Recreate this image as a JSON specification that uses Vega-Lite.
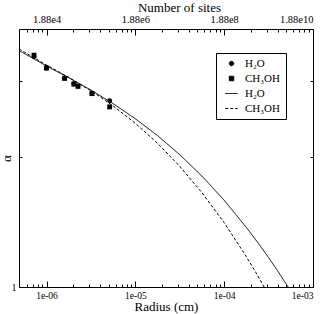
{
  "$schema": "https://vega.github.io/schema/vega-lite/v6.json",
  "autosize": "none",
  "padding": {"left": 19, "top": 29, "right": 14, "bottom": 27},
  "width": 294,
  "height": 258,
  "background": "white",
  "config": {
    "view": {"stroke": "black", "strokeWidth": 1},
    "axis": {
      "domain": false,
      "grid": false,
      "labelFont": "Liberation Serif",
      "titleFont": "Liberation Serif",
      "titleFontWeight": "normal",
      "labelColor": "black",
      "titleColor": "black",
      "tickColor": "black",
      "tickWidth": 1,
      "labelFontSize": 10,
      "titleFontSize": 13
    },
    "legend": {
      "labelFont": "Liberation Serif",
      "labelFontSize": 11,
      "labelColor": "black",
      "strokeColor": "black",
      "fillColor": "white",
      "padding": 5,
      "rowPadding": 3,
      "symbolOffset": 5,
      "labelOffset": 8,
      "symbolSize": 20,
      "symbolStrokeColor": "black",
      "symbolFillColor": "black",
      "symbolStrokeWidth": 1
    }
  },
  "datasets": {
    "curves": [
      {"r": 4.9e-7, "alpha": 4.112, "key": "l1"},
      {"r": 1e-6, "alpha": 3.908, "key": "l1"},
      {"r": 1.778e-6, "alpha": 3.754, "key": "l1"},
      {"r": 3.162e-6, "alpha": 3.591, "key": "l1"},
      {"r": 5.623e-6, "alpha": 3.413, "key": "l1"},
      {"r": 1e-5, "alpha": 3.214, "key": "l1"},
      {"r": 1.778e-5, "alpha": 2.992, "key": "l1"},
      {"r": 3.162e-5, "alpha": 2.741, "key": "l1"},
      {"r": 5.623e-5, "alpha": 2.459, "key": "l1"},
      {"r": 1e-4, "alpha": 2.141, "key": "l1"},
      {"r": 1.778e-4, "alpha": 1.784, "key": "l1"},
      {"r": 2.512e-4, "alpha": 1.551, "key": "l1"},
      {"r": 3.162e-4, "alpha": 1.387, "key": "l1"},
      {"r": 3.98e-4, "alpha": 1.216, "key": "l1"},
      {"r": 5.25e-4, "alpha": 1.0, "key": "l1"},
      {"r": 4.9e-7, "alpha": 4.133, "key": "l2"},
      {"r": 1e-6, "alpha": 3.921, "key": "l2"},
      {"r": 1.778e-6, "alpha": 3.759, "key": "l2"},
      {"r": 3.162e-6, "alpha": 3.583, "key": "l2"},
      {"r": 5.623e-6, "alpha": 3.383, "key": "l2"},
      {"r": 1e-5, "alpha": 3.154, "key": "l2"},
      {"r": 1.778e-5, "alpha": 2.891, "key": "l2"},
      {"r": 3.162e-5, "alpha": 2.588, "key": "l2"},
      {"r": 5.623e-5, "alpha": 2.241, "key": "l2"},
      {"r": 1e-4, "alpha": 1.846, "key": "l2"},
      {"r": 1.778e-4, "alpha": 1.399, "key": "l2"},
      {"r": 2.239e-4, "alpha": 1.204, "key": "l2"},
      {"r": 2.818e-4, "alpha": 1.0, "key": "l2"}
    ],
    "pts": [
      {"r": 7.23e-7, "alpha": 4.03, "key": "p1"},
      {"r": 1.0e-6, "alpha": 3.89, "key": "p1"},
      {"r": 1.6e-6, "alpha": 3.75, "key": "p1"},
      {"r": 2.03e-6, "alpha": 3.675, "key": "p1"},
      {"r": 2.26e-6, "alpha": 3.645, "key": "p1"},
      {"r": 3.25e-6, "alpha": 3.55, "key": "p1"},
      {"r": 5.14e-6, "alpha": 3.45, "key": "p1"},
      {"r": 7.23e-7, "alpha": 4.05, "key": "p2"},
      {"r": 1.0e-6, "alpha": 3.88, "key": "p2"},
      {"r": 1.6e-6, "alpha": 3.745, "key": "p2"},
      {"r": 2.03e-6, "alpha": 3.67, "key": "p2"},
      {"r": 2.26e-6, "alpha": 3.64, "key": "p2"},
      {"r": 3.25e-6, "alpha": 3.545, "key": "p2"},
      {"r": 5.14e-6, "alpha": 3.37, "key": "p2"}
    ]
  },
  "resolve": {"axis": {"x": "independent", "y": "independent"}},
  "layer": [
    {
      "data": {"name": "curves"},
      "mark": {"type": "line", "color": "black", "strokeWidth": 1, "clip": true},
      "encoding": {
        "x": {
          "field": "r", "type": "quantitative",
          "scale": {"type": "log", "domain": [4.9e-7, 1e-3], "nice": false},
          "axis": {
            "orient": "bottom", "title": "Radius (cm)",
            "values": [1e-6, 1e-5, 1e-4, 1e-3],
            "labelExpr": "'1e-0' + round(-log(datum.value)/LN10)",
            "tickSize": -6, "labelPadding": 9, "labelFontSize": 9.5,
            "titlePadding": 1
          }
        },
        "y": {
          "field": "alpha", "type": "quantitative",
          "scale": {"domain": [1, 4.395], "nice": false, "zero": false},
          "axis": {
            "orient": "left", "title": "α",
            "values": [1, 2.71, 3.71],
            "labelExpr": "datum.value == 1 ? '1' : ''",
            "tickSize": -3, "labelPadding": 6, "labelFontSize": 10,
            "titlePadding": -2
          }
        },
        "strokeDash": {
          "field": "key", "type": "nominal",
          "scale": {"domain": ["p1", "p2", "l1", "l2"], "range": [[1, 0], [1, 0], [1, 0], [3, 2]]},
          "legend": {
            "title": null, "orient": "none", "legendX": 197, "legendY": 24,
            "labelExpr": "(datum.label == 'p1' || datum.label == 'l1') ? 'H₂O' : 'CH₃OH'",
            "encode": {"symbols": {"update": {"stroke": {"value": "black"}, "strokeWidth": {"value": 1}}}}
          }
        }
      }
    },
    {
      "data": {"name": "pts"},
      "mark": {"type": "point", "filled": true, "color": "black", "opacity": 1, "size": 24},
      "encoding": {
        "x": {
          "field": "r", "type": "quantitative",
          "axis": {
            "orient": "top", "title": "Number of sites",
            "values": [1e-6, 1e-5, 1e-4, 1e-3],
            "labelExpr": "'1.88e' + round(2*log(datum.value)/LN10 + 16)",
            "tickSize": -6, "labelPadding": 11, "labelFontSize": 10.5,
            "titlePadding": 0, "titleX": 160
          }
        },
        "y": {
          "field": "alpha", "type": "quantitative",
          "axis": {
            "orient": "right", "title": null,
            "values": [2.71, 3.71], "labels": false, "tickSize": -3
          }
        },
        "shape": {
          "field": "key", "type": "nominal",
          "scale": {"domain": ["p1", "p2", "l1", "l2"], "range": ["circle", "square", "M-2.8,0H2.8", "M-2.8,0H2.8"]},
          "legend": {
            "title": null, "orient": "none", "legendX": 197, "legendY": 24,
            "labelExpr": "(datum.label == 'p1' || datum.label == 'l1') ? 'H₂O' : 'CH₃OH'",
            "encode": {"symbols": {"update": {"stroke": {"value": "black"}, "strokeWidth": {"value": 1}}}}
          }
        }
      }
    },
    {
      "data": {"name": "pts"},
      "mark": {"type": "point", "opacity": 0},
      "encoding": {
        "x": {
          "field": "r", "type": "quantitative",
          "axis": {
            "orient": "bottom", "title": null, "labels": false, "tickSize": -3,
            "values": [6e-7, 7e-7, 8e-7, 9e-7, 2e-6, 3e-6, 4e-6, 5e-6, 6e-6, 7e-6, 8e-6, 9e-6, 2e-5, 3e-5, 4e-5, 5e-5, 6e-5, 7e-5, 8e-5, 9e-5, 2e-4, 3e-4, 4e-4, 5e-4, 6e-4, 7e-4, 8e-4, 9e-4]
          }
        },
        "y": {"field": "alpha", "type": "quantitative", "axis": null}
      }
    },
    {
      "data": {"name": "pts"},
      "mark": {"type": "point", "opacity": 0},
      "encoding": {
        "x": {
          "field": "r", "type": "quantitative",
          "axis": {
            "orient": "top", "title": null, "labels": false, "tickSize": -3,
            "values": [6e-7, 7e-7, 8e-7, 9e-7, 2e-6, 3e-6, 4e-6, 5e-6, 6e-6, 7e-6, 8e-6, 9e-6, 2e-5, 3e-5, 4e-5, 5e-5, 6e-5, 7e-5, 8e-5, 9e-5, 2e-4, 3e-4, 4e-4, 5e-4, 6e-4, 7e-4, 8e-4, 9e-4]
          }
        },
        "y": {"field": "alpha", "type": "quantitative", "axis": null}
      }
    }
  ]
}
